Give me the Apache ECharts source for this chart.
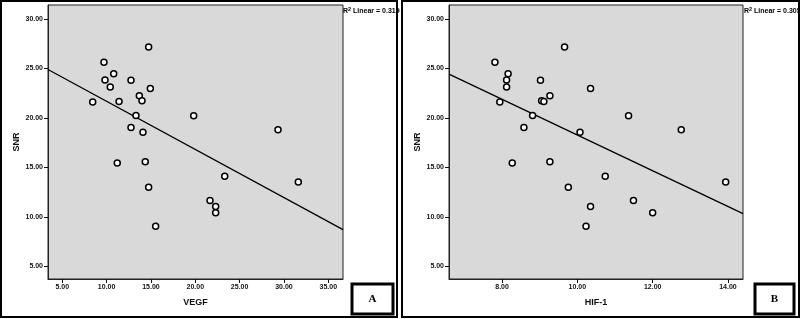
<!DOCTYPE html>
<html>
<head>
<meta charset="utf-8">
<script src="https://cdn.jsdelivr.net/npm/echarts@6/dist/echarts.min.js"></script>
<style>
  html, body { margin: 0; padding: 0; background: #fff; }
  #chart { width: 800px; height: 319px; }
</style>
</head>
<body>
<div id="chart"></div>
<script>
// panel A: VEGF vs SNR
const vegfX = [14.74, 9.70, 10.80, 9.82, 12.75, 10.41, 14.93, 13.69, 13.99, 11.40, 8.43, 13.31, 19.82,
  12.75, 14.10, 29.33, 11.20, 14.36, 14.74, 23.32, 31.62, 21.66, 22.30, 22.30, 15.53];
const vegfSNR = [27.17, 25.62, 24.46, 23.83, 23.80, 23.12, 22.98, 22.24, 21.73, 21.67, 21.60, 20.25, 20.21,
  19.04, 18.56, 18.80, 15.43, 15.56, 13.00, 14.11, 13.53, 11.65, 11.04, 10.40, 9.05];
const vegfFit = [[3.39, 24.90], [36.66, 8.71]];
const vegfTicks = [5, 10, 15, 20, 25, 30, 35];

// panel B: HIF-1 vs SNR
const hifX = [9.66, 7.81, 8.16, 8.12, 9.02, 8.12, 10.35, 9.27, 9.05, 9.11, 7.94, 8.81, 11.36,
  8.58, 10.07, 12.76, 8.27, 9.27, 9.76, 10.74, 13.94, 11.49, 10.35, 12.00, 10.23];
const hifSNR = [27.17, 25.62, 24.46, 23.83, 23.80, 23.12, 22.98, 22.24, 21.73, 21.67, 21.60, 20.25, 20.21,
  19.04, 18.56, 18.80, 15.43, 15.56, 13.00, 14.11, 13.53, 11.65, 11.04, 10.40, 9.05];
const hifFit = [[6.59, 24.43], [14.40, 10.33]];
const hifTicks = [8, 10, 12, 14];

const snrTicks = [5, 10, 15, 20, 25, 30];
const r2Labels = ['0.319', '0.305'];
const panelLetters = ['A', 'B'];

const font = 'Liberation Sans, Arial, sans-serif';

const zip = (xs, ys) => xs.map((x, i) => [x, ys[i]]);

const makeX = (idx, name, min, max, ticks) => ({
  type: 'value', gridIndex: idx, name: name, nameLocation: 'middle', nameGap: 19,
  nameTextStyle: { fontFamily: font, fontWeight: 'bold', fontSize: 9, color: '#111' },
  min: min, max: max,
  axisLine: { show: true, lineStyle: { color: '#222', width: 1 } },
  axisTick: { show: true, length: 4, customValues: ticks, lineStyle: { color: '#111' } },
  axisLabel: { customValues: ticks, margin: 5, fontFamily: font, fontWeight: 'bold', fontSize: 7, color: '#111',
    formatter: v => v.toFixed(2) },
  splitLine: { show: false }
});

const makeY = idx => ({
  type: 'value', gridIndex: idx, name: 'SNR', nameLocation: 'middle', nameGap: 27,
  nameTextStyle: { fontFamily: font, fontWeight: 'bold', fontSize: 9, color: '#111' },
  min: 3.71, max: 31.42,
  axisLine: { show: true, lineStyle: { color: '#222', width: 1 } },
  axisTick: { show: true, length: 4, customValues: snrTicks, lineStyle: { color: '#111' } },
  axisLabel: { customValues: snrTicks, margin: 5, fontFamily: font, fontWeight: 'bold', fontSize: 7, color: '#111',
    formatter: v => v.toFixed(2) },
  splitLine: { show: false }
});

const scatterSeries = (idx, data) => ({
  type: 'scatter', xAxisIndex: idx, yAxisIndex: idx, data: data,
  symbol: 'circle', symbolSize: 6,
  itemStyle: { color: '#fff', borderColor: '#000', borderWidth: 1.5, opacity: 1 },
  z: 3
});

const fitSeries = (idx, data) => ({
  type: 'line', xAxisIndex: idx, yAxisIndex: idx, data: data,
  showSymbol: false, symbol: 'none', silent: true,
  lineStyle: { color: '#000', width: 1.3 },
  z: 2
});

const r2Text = (x, val) => ({
  type: 'text', left: x, top: 6,
  style: {
    text: '{a|R}{s|2}{a| Linear = ' + val + '}',
    rich: {
      a: { fontFamily: font, fontWeight: 'bold', fontSize: 7, fill: '#000', verticalAlign: 'bottom' },
      s: { fontFamily: font, fontWeight: 'bold', fontSize: 5.5, fill: '#000', verticalAlign: 'top', padding: [0, 0, 3, 0] }
    }
  }
});

const letterBox = (x, y, w, h, letter) => ([
  { type: 'rect', shape: { x: x, y: y, width: w, height: h },
    style: { fill: '#fff', stroke: '#000', lineWidth: 3 }, z: 10 },
  { type: 'text', x: x + w / 2, y: y + h / 2, z: 11,
    style: { text: letter, fontFamily: 'Liberation Serif, Times New Roman, serif', fontWeight: 'bold',
      fontSize: 11, fill: '#000', align: 'center', verticalAlign: 'middle' } }
]);

const chart = echarts.init(document.getElementById('chart'), null, { renderer: 'canvas' });

chart.setOption({
  backgroundColor: '#fff',
  animation: false,
  grid: [
    { left: 48, top: 5, width: 295, height: 274, show: true, backgroundColor: '#d9d9d9', borderColor: '#222', borderWidth: 1 },
    { left: 449, top: 5, width: 294, height: 274, show: true, backgroundColor: '#d9d9d9', borderColor: '#222', borderWidth: 1 }
  ],
  xAxis: [
    makeX(0, 'VEGF', 3.39, 36.66, vegfTicks),
    makeX(1, 'HIF-1', 6.59, 14.40, hifTicks)
  ],
  yAxis: [makeY(0), makeY(1)],
  series: [
    fitSeries(0, vegfFit),
    scatterSeries(0, zip(vegfX, vegfSNR)),
    fitSeries(1, hifFit),
    scatterSeries(1, zip(hifX, hifSNR))
  ],
  graphic: [
    { type: 'rect', shape: { x: 1, y: 1, width: 396, height: 316 },
      style: { fill: 'none', stroke: '#000', lineWidth: 2 }, z: 20 },
    { type: 'rect', shape: { x: 402, y: 1, width: 397, height: 316 },
      style: { fill: 'none', stroke: '#000', lineWidth: 2 }, z: 20 },
    r2Text(343, r2Labels[0]),
    r2Text(744, r2Labels[1]),
    ...letterBox(352, 284, 41, 30, panelLetters[0]),
    ...letterBox(755, 284, 39, 30, panelLetters[1])
  ]
});
</script>
</body>
</html>
